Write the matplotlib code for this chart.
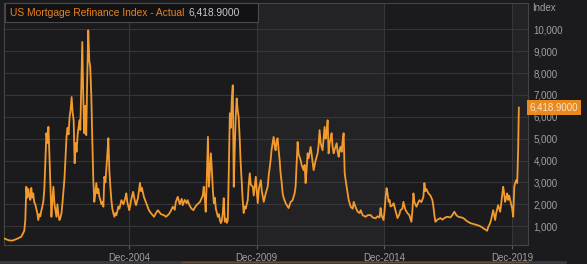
import pandas as pd
import matplotlib
matplotlib.use("Agg")
from matplotlib import pyplot as plt
from matplotlib.patches import Rectangle
from matplotlib.ticker import FuncFormatter

# weekly MBA refinance index (thinned)
dates = [
    "2000-01-21", "2000-02-11", "2000-03-25", "2000-05-07", "2000-06-20", "2000-08-03",
    "2000-09-13", "2000-10-12", "2000-10-26", "2000-11-10", "2000-11-24", "2000-12-08",
    "2000-12-22", "2001-01-05", "2001-01-20", "2001-02-03", "2001-02-17", "2001-03-03",
    "2001-03-17", "2001-04-01", "2001-04-15", "2001-04-30", "2001-05-14", "2001-05-28",
    "2001-06-12", "2001-06-26", "2001-07-11", "2001-07-25", "2001-08-09", "2001-08-23",
    "2001-09-07", "2001-09-21", "2001-10-06", "2001-10-20", "2001-11-04", "2001-11-18",
    "2001-12-02", "2001-12-16", "2002-01-01", "2002-01-15", "2002-01-29", "2002-02-12",
    "2002-02-27", "2002-03-13", "2002-03-28", "2002-04-11", "2002-04-26", "2002-05-10",
    "2002-05-24", "2002-06-08", "2002-06-22", "2002-07-07", "2002-07-21", "2002-08-05",
    "2002-08-19", "2002-09-03", "2002-09-17", "2002-10-02", "2002-10-16", "2002-10-30",
    "2002-11-13", "2002-11-28", "2002-12-12", "2002-12-26", "2003-01-05", "2003-01-19",
    "2003-02-02", "2003-02-16", "2003-03-02", "2003-03-16", "2003-03-31", "2003-04-14",
    "2003-04-29", "2003-05-13", "2003-05-27", "2003-06-11", "2003-06-25", "2003-07-10",
    "2003-07-24", "2003-08-08", "2003-08-22", "2003-09-06", "2003-09-20", "2003-10-05",
    "2003-10-19", "2003-11-03", "2003-11-17", "2003-12-01", "2003-12-15", "2003-12-30",
    "2004-01-12", "2004-01-27", "2004-02-10", "2004-02-24", "2004-03-10", "2004-03-24",
    "2004-04-07", "2004-04-21", "2004-05-06", "2004-05-20", "2004-06-04", "2004-06-18",
    "2004-07-03", "2004-07-17", "2004-08-15", "2004-09-12", "2004-10-10", "2004-10-24",
    "2004-11-07", "2004-12-05", "2005-01-01", "2005-01-29", "2005-02-26", "2005-03-12",
    "2005-04-09", "2005-05-07", "2005-05-21", "2005-06-04", "2005-07-02", "2005-07-30",
    "2005-09-12", "2005-10-10", "2005-11-24", "2005-12-22", "2006-01-19", "2006-03-03",
    "2006-04-16", "2006-05-14", "2006-06-25", "2006-07-23", "2006-08-20", "2006-09-17",
    "2006-10-01", "2006-10-29", "2006-11-27", "2006-12-25", "2007-01-08", "2007-02-05",
    "2007-03-05", "2007-03-19", "2007-04-16", "2007-05-14", "2007-06-11", "2007-07-09",
    "2007-08-06", "2007-09-10", "2007-09-24", "2007-10-22", "2007-11-05", "2007-11-19",
    "2007-12-03", "2007-12-17", "2008-01-04", "2008-01-18", "2008-02-01", "2008-02-15",
    "2008-03-01", "2008-03-15", "2008-03-29", "2008-04-12", "2008-04-26", "2008-05-25",
    "2008-06-08", "2008-06-22", "2008-07-06", "2008-07-20", "2008-08-03", "2008-08-17",
    "2008-09-01", "2008-09-15", "2008-09-30", "2008-10-14", "2008-10-28", "2008-11-12",
    "2008-11-26", "2008-12-10", "2008-12-24", "2009-01-07", "2009-01-21", "2009-02-04",
    "2009-02-18", "2009-03-04", "2009-03-18", "2009-04-02", "2009-04-16", "2009-05-01",
    "2009-05-15", "2009-05-29", "2009-06-13", "2009-06-27", "2009-07-26", "2009-08-09",
    "2009-08-24", "2009-09-07", "2009-10-06", "2009-10-20", "2009-11-18", "2009-12-02",
    "2009-12-16", "2010-01-01", "2010-01-29", "2010-02-12", "2010-03-12", "2010-04-09",
    "2010-05-07", "2010-05-21", "2010-06-18", "2010-07-02", "2010-07-31", "2010-08-14",
    "2010-08-28", "2010-09-12", "2010-09-26", "2010-10-10", "2010-10-25", "2010-11-08",
    "2010-11-23", "2010-12-07", "2010-12-21", "2011-01-19", "2011-02-16", "2011-03-02",
    "2011-03-31", "2011-04-28", "2011-05-27", "2011-06-10", "2011-06-24", "2011-07-09",
    "2011-07-23", "2011-08-21", "2011-09-04", "2011-10-03", "2011-10-17", "2011-10-31",
    "2011-11-15", "2011-11-29", "2011-12-13", "2012-01-11", "2012-01-25", "2012-02-23",
    "2012-03-22", "2012-04-20", "2012-05-04", "2012-05-18", "2012-06-02", "2012-06-30",
    "2012-07-14", "2012-07-29", "2012-08-12", "2012-08-26", "2012-09-10", "2012-09-24",
    "2012-10-09", "2012-10-23", "2012-11-06", "2012-11-21", "2012-12-05", "2012-12-19",
    "2013-01-17", "2013-01-31", "2013-02-15", "2013-03-01", "2013-03-15", "2013-03-30",
    "2013-04-13", "2013-04-27", "2013-05-12", "2013-05-26", "2013-06-24", "2013-07-08",
    "2013-08-06", "2013-09-04", "2013-09-18", "2013-10-17", "2013-11-14", "2013-12-12",
    "2013-12-27", "2014-01-24", "2014-03-08", "2014-04-05", "2014-05-18", "2014-06-15",
    "2014-07-28", "2014-08-25", "2014-09-23", "2014-10-07", "2014-10-21", "2014-11-19",
    "2014-12-03", "2014-12-17", "2015-01-01", "2015-01-15", "2015-01-30", "2015-02-13",
    "2015-02-27", "2015-03-28", "2015-04-11", "2015-05-09", "2015-06-06", "2015-07-04",
    "2015-07-18", "2015-08-15", "2015-08-30", "2015-09-27", "2015-10-26", "2015-11-23",
    "2015-12-22", "2016-01-05", "2016-01-20", "2016-02-03", "2016-03-03", "2016-03-31",
    "2016-04-14", "2016-05-13", "2016-06-10", "2016-06-25", "2016-07-09", "2016-07-23",
    "2016-08-21", "2016-09-19", "2016-10-17", "2016-10-31", "2016-11-15", "2016-11-29",
    "2016-12-28", "2017-02-09", "2017-03-09", "2017-04-21", "2017-05-19", "2017-07-01",
    "2017-07-30", "2017-08-27", "2017-09-25", "2017-10-23", "2017-12-05", "2018-01-03",
    "2018-02-15", "2018-04-12", "2018-05-24", "2018-07-19", "2018-08-31", "2018-10-13",
    "2018-11-10", "2018-12-09", "2018-12-23", "2019-01-21", "2019-02-04", "2019-03-05",
    "2019-03-19", "2019-04-02", "2019-04-17", "2019-05-15", "2019-05-29", "2019-06-13",
    "2019-06-27", "2019-07-11", "2019-07-26", "2019-08-09", "2019-08-23", "2019-09-07",
    "2019-09-21", "2019-10-05", "2019-10-20", "2019-11-03", "2019-11-17", "2019-12-02",
    "2019-12-16", "2020-01-01", "2020-01-15", "2020-01-29", "2020-02-12", "2020-02-26",
    "2020-03-06",
]
values = [
    430, 400, 350, 340, 390, 450,
    520, 700, 790, 1300, 2800, 2300,
    2700, 2400, 2200, 2750, 2300, 2500,
    2100, 2000, 1800, 1600, 1280, 1550,
    1450, 1700, 1900, 2110, 2700, 4000,
    5250, 4800, 5540, 4300, 2800, 1430,
    2200, 2800, 2000, 1700, 1430, 2000,
    1500, 1280, 1400, 1600, 2100, 2650,
    3200, 4200, 5080, 5500, 5200, 6000,
    6300, 6900, 6200, 5840, 3880, 4800,
    4400, 5200, 5540, 5840, 5400, 7500,
    9420, 7000, 5250, 6500, 5160, 7800,
    9950, 8580, 8280, 7000, 5000, 3100,
    2110, 2500, 2970, 2500, 2700, 2340,
    2200, 2000, 2100, 1890, 3260, 3000,
    3600, 4300, 5020, 3560, 2800, 2190,
    1800, 1600, 1430, 1600, 1500, 1700,
    1900, 1800, 2190, 2000, 2300, 2500,
    2100, 1730, 2200, 2570, 2100, 1960,
    2300, 2980, 2600, 2750, 2340, 2100,
    1730, 1600, 1430, 1600, 1730, 1550,
    1500, 1430, 1550, 1700, 1890, 1750,
    2100, 2340, 2000, 2250, 1960, 2200,
    2050, 2190, 1950, 1800, 1730, 1900,
    2000, 2100, 2190, 2400, 2800, 2300,
    1660, 3000, 5080, 2800, 3600, 4330,
    3500, 2600, 2050, 2300, 1800, 1430,
    1550, 1300, 1140, 1250, 1600, 2280,
    1200, 1350, 1150, 1280, 3500, 6160,
    5500, 6800, 7440, 2800, 4500, 6000,
    6840, 6300, 6000, 5000, 3880, 3000,
    2200, 1600, 1900, 1800, 2190, 2900,
    3420, 2900, 2800, 2400, 3260, 2600,
    2050, 2700, 3100, 2600, 2110, 2500,
    2800, 3300, 4020, 4500, 5080, 4700,
    4470, 4900, 5020, 4500, 4020, 3400,
    3000, 2500, 2300, 2050, 1900, 1830,
    2100, 2190, 2500, 2800, 3800, 4850,
    4300, 4020, 3800, 3560, 3800, 2970,
    3600, 4330, 4100, 4620, 4300, 3560,
    4000, 4330, 4700, 5390, 4800, 4470,
    5000, 5540, 5000, 5300, 5840, 4330,
    4800, 5000, 5250, 4600, 4330, 4500,
    4790, 4400, 4170, 4500, 4620, 4400,
    4900, 5250, 3420, 3100, 2500, 2200,
    1890, 1800, 2110, 1850, 1660, 1600,
    1730, 1500, 1430, 1500, 1510, 1400,
    1360, 1450, 1400, 1830, 1500, 1280,
    1700, 2300, 2740, 2500, 2110, 2200,
    1900, 1960, 2050, 1700, 1370, 1550,
    1730, 1800, 2110, 1750, 1600, 1500,
    1200, 1700, 2500, 2100, 1890, 2100,
    2190, 2100, 2340, 2970, 2600, 2700,
    2500, 2400, 2190, 1900, 1500, 1200,
    1300, 1370, 1300, 1400, 1430, 1400,
    1510, 1660, 1500, 1430, 1400, 1370,
    1250, 1140, 1100, 1050, 1000, 910,
    850, 790, 950, 1140, 1300, 1730,
    1500, 1280, 1600, 1960, 1800, 1660,
    2000, 2400, 2800, 2500, 2110, 2300,
    2500, 2200, 2400, 2190, 2000, 1800,
    1430, 2800, 3000, 3100, 2970, 4620,
    6418.9,
]
tick_dates = ["2004-12-01", "2009-12-01", "2014-12-01", "2019-12-01"]
tick_labels = ["Dec-2004", "Dec-2009", "Dec-2014", "Dec-2019"]
y_ticks = [1000, 2000, 3000, 4000, 5000, 6000, 7000, 8000, 9000, 10000]

series_name = "US Mortgage Refinance Index - Actual"
last_text = "6,418.9000"

FONT = ["Liberation Sans", "DejaVu Sans"]
BG = "#1b1b1d"
BAND = "#232325"
GRID = "#36363a"
ORANGE = "#f39a2e"
TXT = "#a0a0a4"

df = pd.DataFrame({"date": pd.to_datetime(dates), "value": values})
ticks = pd.to_datetime(tick_dates)

fig = plt.figure(figsize=(5.87, 2.64), dpi=100, facecolor=BG)
ax = fig.add_axes([4 / 587, 19 / 264, 524 / 587, 242 / 264])
ax.set_facecolor(BG)

# lighter bands every other 5-year block
ax.axvspan(ticks[1], ticks[2], color=BAND, lw=0, zorder=0)
ax.axvspan(ticks[3], pd.Timestamp("2021-06-01"), color=BAND, lw=0, zorder=0)

ax.plot(df["date"], df["value"], color=ORANGE, lw=1.3, zorder=3)

ax.set_xlim(pd.Timestamp("2000-01-10"), pd.Timestamp("2020-07-15"))
ax.set_ylim(140, 11200)

ax.set_xticks(ticks)
ax.set_xticklabels(tick_labels)
ax.set_yticks(y_ticks)
ax.yaxis.set_major_formatter(FuncFormatter(lambda v, p: f"{int(v):,}"))
ax.yaxis.tick_right()
ax.grid(True, color=GRID, lw=0.8)
ax.set_axisbelow(True)
ax.tick_params(axis="y", length=0, pad=4, labelsize=7, labelcolor=TXT)
ax.tick_params(axis="x", length=3, color="#5a5a5e", pad=3, labelsize=7, labelcolor=TXT)
for lbl in ax.get_xticklabels() + ax.get_yticklabels():
    lbl.set_family(FONT)
for s in ax.spines.values():
    s.set_color("#444448")
    s.set_linewidth(0.8)

fig.text(532 / 587, 1 - 8 / 264, "Index", color=TXT, fontsize=7, family=FONT,
         ha="left", va="center")

# last value tag
ax.text(1.003, values[-1], last_text, transform=ax.get_yaxis_transform(),
        ha="left", va="center", fontsize=7, color="#fbe3c4", family=FONT,
        bbox=dict(boxstyle="square,pad=0.25", fc="#e88a22", ec="none"), clip_on=False)

# header box
fig.patches.append(Rectangle((5 / 587, 1 - 22 / 264), 253 / 587, 19 / 264,
                             transform=fig.transFigure, fc="#121214", ec="#4a4a4e",
                             lw=0.8, zorder=5))
fig.text(10 / 587, 1 - 12.5 / 264, series_name, color="#e8821e", fontsize=7.4,
         family=FONT, ha="left", va="center", zorder=6)
fig.text(189 / 587, 1 - 12.5 / 264, last_text, color="#c8c8cc", fontsize=7.4,
         family=FONT, ha="left", va="center", zorder=6)

# navigator strip at the bottom
fig.add_artist(plt.Line2D([0, 565 / 587], [2 / 264, 2 / 264], transform=fig.transFigure,
                          color="#3a3a3e", lw=2))
fig.add_artist(plt.Line2D([182 / 587, 528 / 587], [2 / 264, 2 / 264],
                          transform=fig.transFigure, color="#6a5030", lw=1))

fig.savefig("out.png", dpi=100, facecolor=BG)
